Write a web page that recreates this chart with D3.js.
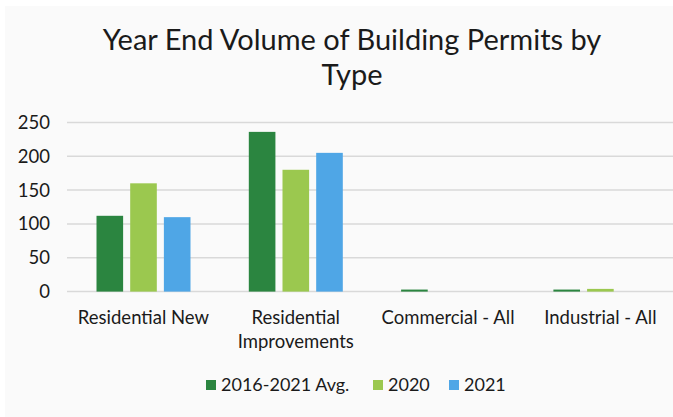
<!DOCTYPE html>
<html>
<head>
<meta charset="utf-8">
<script src="https://cdn.jsdelivr.net/npm/d3@7"></script>
<style>
  body { margin: 0; background: #fff; }
  text { font-family: Lato, "Open Sans", sans-serif; fill: #1a1a1a; }
</style>
</head>
<body>
<div id="chart"></div>
<script>
const categories = ["Residential New", "Residential Improvements", "Commercial - All", "Industrial - All"];
const seriesNames = ["2016-2021 Avg.", "2020", "2021"];
const avgValues = [112, 236, 3, 3];
const values2020 = [160, 180, 0, 4];
const values2021 = [110, 205, 0, 0];
const yTicks = [0, 50, 100, 150, 200, 250];
const colors = ["#2b8540", "#9bc84f", "#4fa6e6"];

const width = 673;
const height = 417;

const rows = categories.map((c, i) => ({
    category: c,
    values: [avgValues[i], values2020[i], values2021[i]]
}));

const svg = d3.select('#chart')
    .append('svg')
        .attr('width', width)
        .attr('height', height);

// light panel behind the chart
svg.append('rect')
    .attr('x', 5)
    .attr('y', 6)
    .attr('width', width - 5)
    .attr('height', height - 6)
    .attr('fill', '#fafafa');

// title
const title = svg.append('text')
    .attr('text-anchor', 'middle')
    .style('font-size', '29px');
title.append('tspan')
    .attr('x', 352)
    .attr('y', 50)
    .text('Year End Volume of Building Permits by');
title.append('tspan')
    .attr('x', 352)
    .attr('dy', 35)
    .text('Type');

const x0 = d3.scaleBand()
    .domain(categories)
    .range([67.3, 676.5]);

const x1 = d3.scaleBand()
    .domain(seriesNames)
    .range([29.2, 123.2])
    .paddingInner(0.21);

const y = d3.scaleLinear()
    .domain([0, 250])
    .range([291.6, 122.4]);

// gridlines
svg.append('g')
    .selectAll('line')
    .data(yTicks)
    .join('line')
        .attr('x1', 67)
        .attr('x2', width)
        .attr('y1', d => y(d))
        .attr('y2', d => y(d))
        .attr('stroke', '#d9d9d9')
        .attr('stroke-width', 1.5);

// y axis labels
svg.append('g')
    .selectAll('text')
    .data(yTicks)
    .join('text')
        .attr('x', 50)
        .attr('y', d => y(d))
        .attr('dy', '0.35em')
        .attr('text-anchor', 'end')
        .style('font-size', '18.5px')
        .text(d => d);

// bars
const groups = svg.append('g')
    .selectAll('g')
    .data(rows)
    .join('g')
        .attr('transform', d => `translate(${x0(d.category)},0)`);

groups.selectAll('rect')
    .data(d => d.values.map((v, i) => ({ key: seriesNames[i], value: v, color: colors[i] })))
    .join('rect')
        .attr('x', d => x1(d.key))
        .attr('y', d => y(d.value))
        .attr('width', x1.bandwidth())
        .attr('height', d => y(0) - y(d.value))
        .attr('fill', d => d.color);

// category labels (wrapped like the original)
const catLines = {
    "Residential New": ["Residential New"],
    "Residential Improvements": ["Residential", "Improvements"],
    "Commercial - All": ["Commercial - All"],
    "Industrial - All": ["Industrial - All"]
};
svg.append('g')
    .selectAll('text')
    .data(categories)
    .join('text')
        .attr('text-anchor', 'middle')
        .style('font-size', '18.5px')
        .each(function(d) {
            const t = d3.select(this);
            catLines[d].forEach((line, i) => {
                t.append('tspan')
                    .attr('x', x0(d) + x0.bandwidth() / 2)
                    .attr('y', 324 + i * 24)
                    .text(line);
            });
        });

// legend
const legendX = [206, 373, 449];
const legend = svg.append('g')
    .selectAll('g')
    .data(seriesNames)
    .join('g')
        .attr('transform', (d, i) => `translate(${legendX[i]}, 385)`);

legend.append('rect')
    .attr('x', 0)
    .attr('y', -5)
    .attr('width', 10)
    .attr('height', 10)
    .attr('fill', (d, i) => colors[i]);

legend.append('text')
    .attr('x', 15)
    .attr('dy', '0.35em')
    .style('font-size', '18px')
    .text(d => d);
</script>
</body>
</html>
